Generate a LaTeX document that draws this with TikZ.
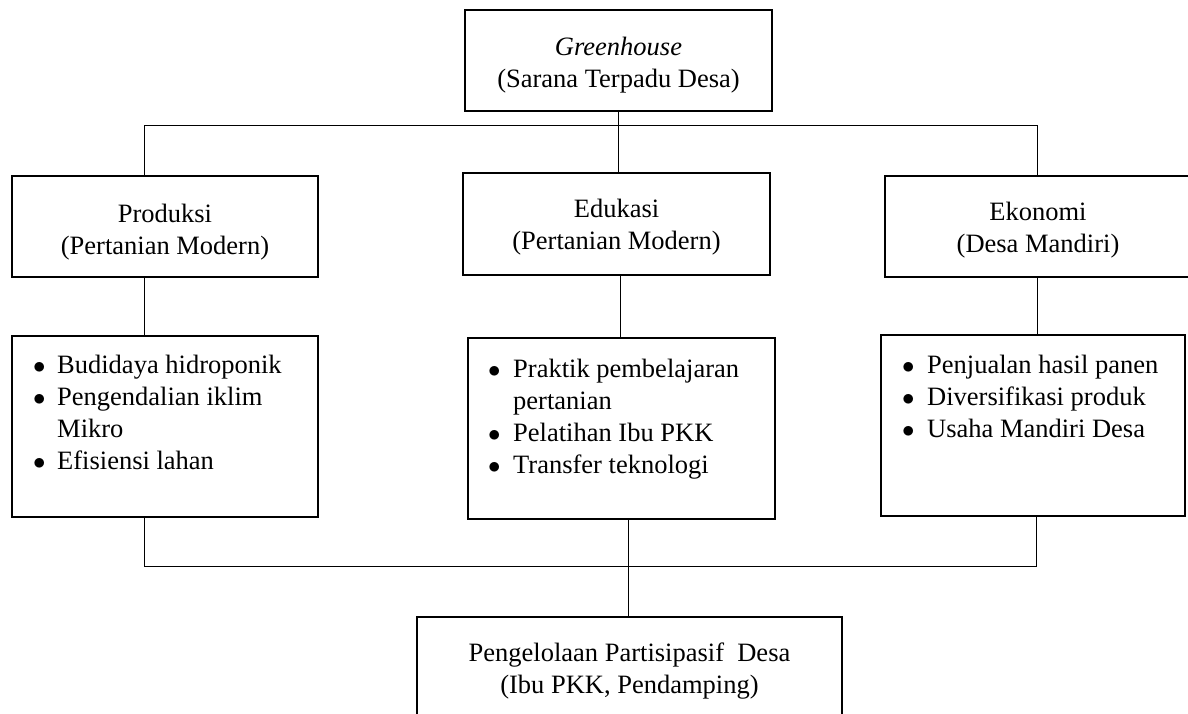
\documentclass[tikz,border=0pt]{standalone}
\usepackage{fontspec}
\setmainfont{Liberation Serif}
\newcommand{\blt}[1]{\makebox[#1][l]{$\bullet$}}
\begin{document}
\begin{tikzpicture}[x=1pt,y=-1pt,
  box/.style={draw,line width=1.4pt,inner sep=0pt,rectangle},
  conn/.style={line width=0.8pt},
  txt/.style={font=\fontsize{26.5}{32}\selectfont,inner sep=0pt,anchor=base},
  lst/.style={font=\fontsize{26.5}{32}\selectfont,inner sep=0pt,anchor=base west}]
\useasboundingbox (0,0) rectangle (1188,713);
\clip (0,0) rectangle (1188,713);
% boxes
\node[box,minimum width=307pt,minimum height=101pt] (top) at (618.5,60.5) {};
\node[box,minimum width=306pt,minimum height=101pt] (lh) at (165,226.5) {};
\node[box,minimum width=307pt,minimum height=102pt] (mh) at (616.5,224) {};
\node[box,minimum width=306pt,minimum height=101pt] (rh) at (1038,226.5) {};
\node[box,minimum width=306pt,minimum height=181pt] (ll) at (165,426.5) {};
\node[box,minimum width=307pt,minimum height=181pt] (ml) at (621.5,428.5) {};
\node[box,minimum width=304pt,minimum height=181pt] (rl) at (1033,425.5) {};
\node[box,minimum width=425pt,minimum height=113pt] (bot) at (629.5,673.5) {};
% header texts
\node[txt] (t1) at (618.5,55) {\itshape Greenhouse};
\node[txt] (t2) at (618.5,87) {(Sarana Terpadu Desa)};
\node[txt] (lh1) at (165,222) {Produksi};
\node[txt] (lh2) at (165,254) {(Pertanian Modern)};
\node[txt] (mh1) at (616.5,217) {Edukasi};
\node[txt] (mh2) at (616.5,249) {(Pertanian Modern)};
\node[txt] (rh1) at (1038,220) {Ekonomi};
\node[txt] (rh2) at (1038,252) {(Desa Mandiri)};
\node[txt] (b1) at (629.5,661) {Pengelolaan Partisipasif\ \ Desa};
\node[txt] (b2) at (629.5,693) {(Ibu PKK, Pendamping)};
% lists
\node[lst] (ll1) at (33,373) {\blt{24pt}Budidaya hidroponik};
\node[lst] (ll2) at (33,405) {\blt{24pt}Pengendalian iklim};
\node[lst] (ll3) at (57,437) {Mikro};
\node[lst] (ll4) at (33,469) {\blt{24pt}Efisiensi lahan};
\node[lst] (ml1) at (488,377) {\blt{25pt}Praktik pembelajaran};
\node[lst] (ml2) at (513,409) {pertanian};
\node[lst] (ml3) at (488,441) {\blt{25pt}Pelatihan Ibu PKK};
\node[lst] (ml4) at (488,473) {\blt{25pt}Transfer teknologi};
\node[lst] (rl1) at (902,373) {\blt{25pt}Penjualan hasil panen};
\node[lst] (rl2) at (902,405) {\blt{25pt}Diversifikasi produk};
\node[lst] (rl3) at (902,437) {\blt{25pt}Usaha Mandiri Desa};
% connectors
\coordinate (jl) at (144,125);
\coordinate (jm) at (618,125);
\coordinate (jr) at (1037,125);
\coordinate (xm) at (620,300);
\coordinate (kl) at (144,566);
\coordinate (km) at (628,566);
\coordinate (kr) at (1036,566);
\draw[conn] (top.south -| jm) -- (jm);
\draw[conn] (jl) -- (jr);
\draw[conn] (jl) -- (jl |- lh.north);
\draw[conn] (jm) -- (jm |- mh.north);
\draw[conn] (jr) -- (jr |- rh.north);
\draw[conn] (jl |- lh.south) -- (jl |- ll.north);
\draw[conn] (xm |- mh.south) -- (xm |- ml.north);
\draw[conn] (jr |- rh.south) -- (jr |- rl.north);
\draw[conn] (kl |- ll.south) -- (kl) -- (kr) -- (kr |- rl.south);
\draw[conn] (km |- ml.south) -- (km |- bot.north);
\end{tikzpicture}
\end{document}
